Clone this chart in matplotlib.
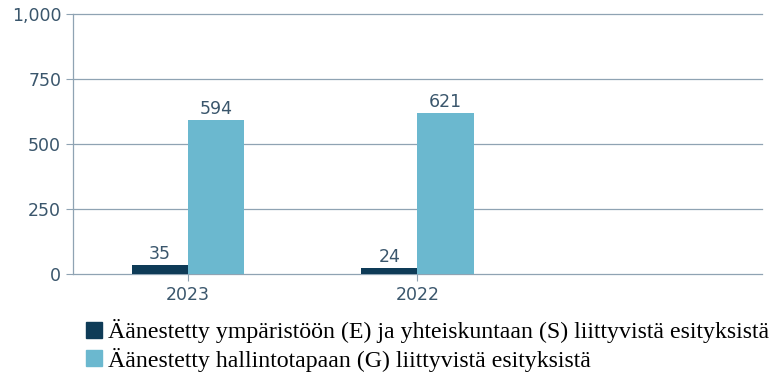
import matplotlib
matplotlib.use("Agg")
import matplotlib.pyplot as plt
import numpy as np
from matplotlib.lines import Line2D

categories = ["2023", "2022"]
es_values = [35, 24]
g_values = [594, 621]
series_labels = [
    "Äänestetty ympäristöön (E) ja yhteiskuntaan (S) liittyvistä esityksistä",
    "Äänestetty hallintotapaan (G) liittyvistä esityksistä",
]
yticks = [0, 250, 500, 750, 1000]

dark = "#0e3b57"
light = "#6bb8cf"
text_col = "#3a566c"
grid_col = "#8fa3b3"

fig = plt.figure(figsize=(7.76, 3.77), dpi=100)
ax = fig.add_axes([0.094, 0.273, 0.888, 0.690])

x = np.arange(len(categories))
w = 0.245
b1 = ax.bar(x - w / 2, es_values, w, color=dark, zorder=3)
b2 = ax.bar(x + w / 2, g_values, w, color=light, zorder=3)

for bars, vals in ((b1, es_values), (b2, g_values)):
    for rect, v in zip(bars, vals):
        ax.text(rect.get_x() + rect.get_width() / 2, v + 6, f"{v}",
                ha="center", va="bottom", fontsize=12.5, color=text_col,
                family="DejaVu Sans")

ax.set_xlim(-0.5, 2.5)
ax.set_ylim(0, 1000)
ax.set_yticks(yticks)
ax.set_yticklabels([f"{t:,}" for t in yticks])
ax.set_xticks(x)
ax.set_xticklabels(categories)
ax.tick_params(axis="both", labelsize=12.5, labelcolor=text_col, color=grid_col,
               length=5, width=0.8)
for lab in ax.get_xticklabels() + ax.get_yticklabels():
    lab.set_family("DejaVu Sans")
for t in yticks:
    ax.axhline(t, color=grid_col, linewidth=0.9, zorder=0, clip_on=False)
for s in ("top", "right", "bottom"):
    ax.spines[s].set_visible(False)
ax.spines["left"].set_color(grid_col)
ax.spines["left"].set_linewidth(0.9)

handles = [Line2D([], [], marker="s", linestyle="none", markersize=12,
                  markerfacecolor=c, markeredgecolor=c) for c in (dark, light)]
fig.legend(handles, series_labels, loc="upper left", bbox_to_anchor=(0.097, 0.178),
           frameon=False, prop={"family": "Liberation Serif", "size": 17.2},
           handletextpad=0.15, labelspacing=0.18, borderaxespad=0, handlelength=0.8)

fig.savefig("out.png", dpi=100)
